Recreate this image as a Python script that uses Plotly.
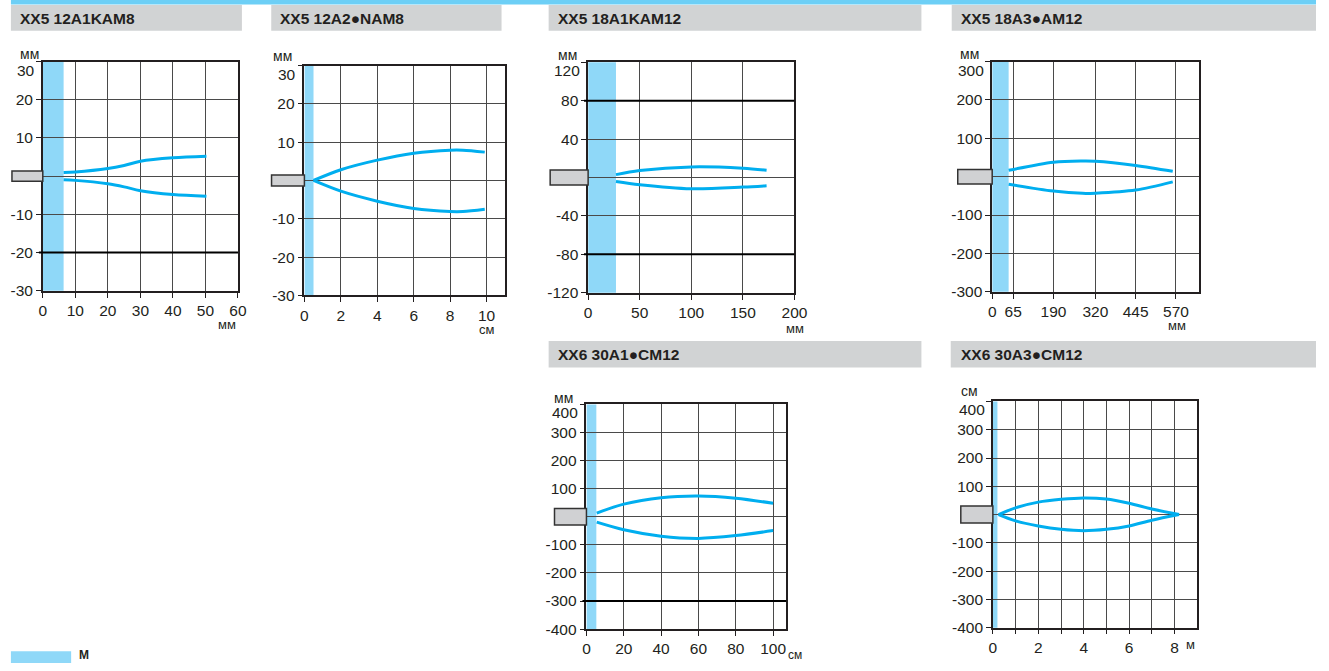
import plotly.graph_objects as go

W, H = 1329, 671

# ---------------- data ----------------
titles = ["XX5 12A1KAM8", "XX5 12A2●NAM8", "XX5 18A1KAM12",
          "XX5 18A3●AM12", "XX6 30A1●CM12", "XX6 30A3●CM12"]

# panel 1 (mm / mm)
p1_x = [6.4, 10, 20, 25, 30, 40, 50.3]
p1_up = [0.96, 1.1, 2.0, 2.8, 3.9, 4.8, 5.2]
p1_lo = [-0.95, -1.1, -2.0, -2.8, -3.8, -4.8, -5.25]
p1_xticks = [0, 10, 20, 30, 40, 50, 60]
p1_yticks = [-30, -20, -10, 0, 10, 20, 30]

# panel 2 (cm / mm)
p2_x = [0.5, 2, 4, 6, 8, 8.7, 9.9]
p2_up = [0, 2.8, 5.3, 7.1, 7.9, 7.9, 7.4]
p2_lo = [0, -2.8, -5.4, -7.3, -8.1, -8.1, -7.5]
p2_xticks = [0, 2, 4, 6, 8, 10]
p2_yticks = [-30, -20, -10, 0, 10, 20, 30]

# panel 3 (mm / mm)
p3_x = [27, 50, 100, 150, 173]
p3_up = [3, 7.2, 11, 9.6, 7.5]
p3_lo = [-4.1, -7.5, -11.7, -10, -8.6]
p3_xticks = [0, 50, 100, 150, 200]
p3_yticks = [-120, -80, -40, 0, 40, 80, 120]

# panel 4 (mm / mm)
p4_x = [51, 190, 280, 320, 445, 560]
p4_up = [16.5, 37.8, 41, 40.4, 29.3, 13.9]
p4_lo = [-19.6, -37.6, -43.5, -43, -35, -13.6]
p4_xticks = [0, 65, 190, 320, 445, 570]
p4_yticks = [-300, -200, -100, 0, 100, 200, 300]

# panel 5 (cm / mm)
p5_x = [5.5, 20, 40, 60, 80, 100]
p5_up = [13, 45, 68, 74, 66, 48]
p5_lo = [-19, -46, -69, -77, -67, -49]
p5_xticks = [0, 20, 40, 60, 80, 100]
p5_yticks = [-400, -300, -200, -100, 0, 100, 200, 300, 400]

# panel 6 (m / cm)
p6_x = [0.25, 1, 2, 3, 4, 5, 6, 7, 8.2]
p6_up = [0, 24, 44, 54, 59, 55, 40, 20, 0]
p6_lo = [0, -22, -40, -52, -57, -52, -40, -20, 0]
p6_xticks = [0, 1, 2, 3, 4, 5, 6, 7, 8]
p6_xticklabels = ["0", "", "2", "", "4", "", "6", "", "8"]
p6_yticks = [-400, -300, -200, -100, 0, 100, 200, 300, 400]

x_ranges = [[0, 60], [0, 11], [0, 200], [0, 640], [0, 107], [0, 9]]
y_ranges = [[-30, 30], [-30, 30], [-120, 120], [-300, 300], [-400, 400], [-400, 400]]
band_ends = [6.4, 0.5, 27, 51, 5.3, 0.2]
heavy_lines = [[-20], [], [80, -80], [], [-300], []]
sensor_half = [1.33, 1.42, 7.7, 19, 29, 30]

x_units = ["мм", "см", "мм", "мм", "см", "м"]
y_units = ["мм", "мм", "мм", "мм", "мм", "см"]
legend_text = "М"

# ---------------- layout geometry (page pixels) ----------------
boxes = [  # x0, x1, y0(top), y1(bottom)
    (39.3, 237.0, 62.3, 294.3),
    (304.3, 507.3, 66.3, 299.0),
    (591.7, 800.7, 63.0, 296.3),
    (1001.0, 1210.0, 62.3, 295.3),
    (590.0, 792.3, 409.3, 636.7),
    (1001.7, 1208.7, 406.3, 635.3),
]
headers = [  # x0, x1, y0, y1, text_x
    (7, 241, 5, 31, 14),
    (270.7, 504, 5, 31, 278),
    (551.7, 929.3, 5, 31, 559.3),
    (960, 1329, 5, 31, 967.3),
    (551.7, 929.3, 345, 372, 559.3),
    (959, 1329, 345, 372, 967.3),
]
sensor_w = [0.158, 0.164, 0.184, 0.167, 0.16, 0.157]
yunit_pos = [(26, 55), (282, 57), (571, 56), (978, 55), (567, 403), (978, 396)]
xunit_pos = [(226, 328), (489, 333), (801, 332), (1188, 329), (801, 671), (1202, 652)]


def fx(px):
    return px / W


def fy(py):
    return 1 - py / H


CURVE = "#00aeef"
BAND = "#8fd8f8"
GRID = "#4a4a4a"
AXIS = "#231f20"
HEAD = "#d1d3d4"
TXT = "#231f20"
FONT = "Liberation Sans, Arial, sans-serif"

xs = [p1_x, p2_x, p3_x, p4_x, p5_x, p6_x]
ups = [p1_up, p2_up, p3_up, p4_up, p5_up, p6_up]
los = [p1_lo, p2_lo, p3_lo, p4_lo, p5_lo, p6_lo]
xticks = [p1_xticks, p2_xticks, p3_xticks, p4_xticks, p5_xticks, p6_xticks]
xticktexts = [[str(v) for v in p1_xticks], [str(v) for v in p2_xticks],
              [str(v) for v in p3_xticks], [str(v) for v in p4_xticks],
              [str(v) for v in p5_xticks], p6_xticklabels]
yticks = [p1_yticks, p2_yticks, p3_yticks, p4_yticks, p5_yticks, p6_yticks]

fig = go.Figure()
shapes = []
annotations = []
layout_axes = {}

for i in range(6):
    n = "" if i == 0 else str(i + 1)
    xa, ya = "x" + n, "y" + n
    for yy in (ups[i], los[i]):
        fig.add_trace(go.Scatter(
            x=xs[i], y=yy, xaxis=xa, yaxis=ya, mode="lines",
            line=dict(color=CURVE, width=3, shape="spline", smoothing=0.9),
            showlegend=False, hoverinfo="skip"))
    bx0, bx1, by0, by1 = boxes[i]
    common = dict(showline=True, linecolor=AXIS, linewidth=1.5, mirror=True,
                  showgrid=True, gridcolor=GRID, gridwidth=1, zeroline=False,
                  ticks="outside", ticklen=5, tickcolor=AXIS, tickwidth=1,
                  tickfont=dict(family=FONT, size=15.5, color=TXT), fixedrange=True)
    layout_axes["xaxis" + n] = dict(
        domain=[fx(bx0), fx(bx1)], anchor=ya, range=x_ranges[i],
        tickmode="array", tickvals=xticks[i], ticktext=xticktexts[i], **common)
    top = max(yticks[i])
    ytt = ["" if (v == 0 or v == top) else str(v) for v in yticks[i]]
    layout_axes["yaxis" + n] = dict(
        domain=[fy(by1), fy(by0)], anchor=xa, range=y_ranges[i],
        tickmode="array", tickvals=yticks[i], ticktext=ytt, **common)
    # top tick label sits just below the top grid line, as in the original
    annotations.append(dict(xref=xa + " domain", yref=ya, x=0, y=top, xanchor="right",
                            yanchor="top", xshift=-6, yshift=2, showarrow=False,
                            text=str(top), font=dict(family=FONT, size=15.5, color=TXT)))
    # blue band
    shapes.append(dict(type="rect", xref=xa, yref=ya + " domain", x0=0, x1=band_ends[i],
                       y0=0, y1=1, fillcolor=BAND, line=dict(width=0), layer="below"))
    # heavy lines
    for hv in heavy_lines[i]:
        shapes.append(dict(type="line", xref=xa + " domain", yref=ya, x0=-0.02, x1=1,
                           y0=hv, y1=hv, line=dict(color="#000000", width=2), layer="above"))
    # sensor body
    shapes.append(dict(type="rect", xref=xa + " domain", yref=ya, x0=-sensor_w[i], x1=0,
                       y0=-sensor_half[i], y1=sensor_half[i], fillcolor="#d0d1d3",
                       line=dict(color="#333333", width=1.5), layer="above"))
    # header bar
    hx0, hx1, hy0, hy1, tx = headers[i]
    shapes.append(dict(type="rect", xref="paper", yref="paper", x0=fx(hx0), x1=fx(hx1),
                       y0=fy(hy1), y1=fy(hy0), fillcolor=HEAD, line=dict(width=0), layer="below"))
    annotations.append(dict(xref="paper", yref="paper", x=fx(tx), y=fy((hy0 + hy1) / 2 + 0.5),
                            xanchor="left", yanchor="middle", showarrow=False,
                            text="<b>" + titles[i] + "</b>",
                            font=dict(family=FONT, size=15.5, color=TXT)))
    ux, uy = yunit_pos[i]
    annotations.append(dict(xref="paper", yref="paper", x=fx(ux), y=fy(uy), xanchor="center",
                            yanchor="middle", showarrow=False, text=y_units[i],
                            font=dict(family=FONT, size=14, color=TXT)))
    ux, uy = xunit_pos[i]
    last = (uy >= H)
    annotations.append(dict(xref="paper", yref="paper", x=fx(ux), y=fy(uy), xanchor="center",
                            yanchor="bottom" if last else "middle", borderpad=0,
                            showarrow=False, text=x_units[i],
                            font=dict(family=FONT, size=12 if last else 13, color=TXT)))

# top strip
shapes.append(dict(type="rect", xref="paper", yref="paper", x0=fx(7), x1=1, y0=fy(4.5), y1=1,
                   fillcolor="#6dcff6", line=dict(width=0), layer="below"))
# legend swatch bottom left
shapes.append(dict(type="rect", xref="paper", yref="paper", x0=fx(7), x1=fx(68), y0=0, y1=fy(659),
                   fillcolor=BAND, line=dict(width=0), layer="below"))
annotations.append(dict(xref="paper", yref="paper", x=fx(75), y=0, xanchor="left",
                        yanchor="bottom", borderpad=0, showarrow=False,
                        text="<b>" + legend_text + "</b>",
                        font=dict(family=FONT, size=12, color=TXT)))

fig.update_layout(width=W, height=H, margin=dict(l=0, r=0, t=0, b=0),
                  paper_bgcolor="white", plot_bgcolor="white",
                  shapes=shapes, annotations=annotations, showlegend=False,
                  **layout_axes)

fig.write_html("out.html", config={"displayModeBar": False},
               post_script="document.body.style.margin='0';")
